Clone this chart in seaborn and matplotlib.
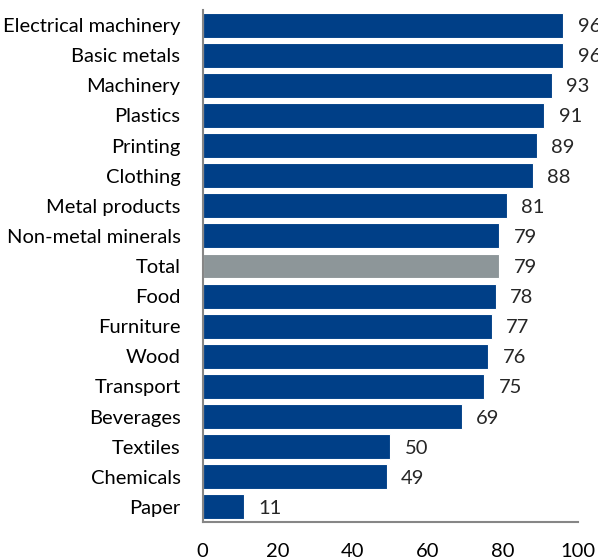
import matplotlib
matplotlib.use("Agg")
import matplotlib.pyplot as plt
import seaborn as sns
import pandas as pd

categories = ["Electrical machinery", "Basic metals", "Machinery", "Plastics", "Printing",
              "Clothing", "Metal products", "Non-metal minerals", "Total", "Food",
              "Furniture", "Wood", "Transport", "Beverages", "Textiles", "Chemicals", "Paper"]
values = [96, 96, 93, 91, 89, 88, 81, 79, 79, 78, 77, 76, 75, 69, 50, 49, 11]
xticks = [0, 20, 40, 60, 80, 100]

sns.set_theme(style="white")
plt.rcParams['font.family'] = ['Lato', 'DejaVu Sans']

navy = "#003f87"
grey = "#8d9699"
palette = {c: (grey if c == "Total" else navy) for c in categories}

df = pd.DataFrame({"category": categories, "value": values})

fig = plt.figure(figsize=(5.98, 5.6), dpi=100)
ax = fig.add_axes([0.339, 0.068, 0.628, 0.914])
sns.barplot(data=df, x="value", y="category", hue="category", palette=palette,
            order=categories, orient="h", width=0.83, legend=False, ax=ax,
            saturation=1, edgecolor="white", linewidth=0.8)

ax.set_xlim(0, 100)
ax.set_ylim(len(categories) - 0.5, -0.5)
ax.set_xticks(xticks)
ax.set_xlabel("")
ax.set_ylabel("")
ax.tick_params(axis="x", length=0, pad=15, labelsize=14.5, colors="black")
ax.tick_params(axis="y", length=0, pad=16, labelsize=14.5, colors="black")
for s in ["top", "right"]:
    ax.spines[s].set_visible(False)
for s in ["left", "bottom"]:
    ax.spines[s].set_color("#868686")
    ax.spines[s].set_linewidth(1.5)

for i, v in enumerate(values):
    ax.text(v + 3.8, i + 0.05, str(v), va="center", ha="left", fontsize=14.5, clip_on=False)

fig.savefig("out.png", dpi=100)
